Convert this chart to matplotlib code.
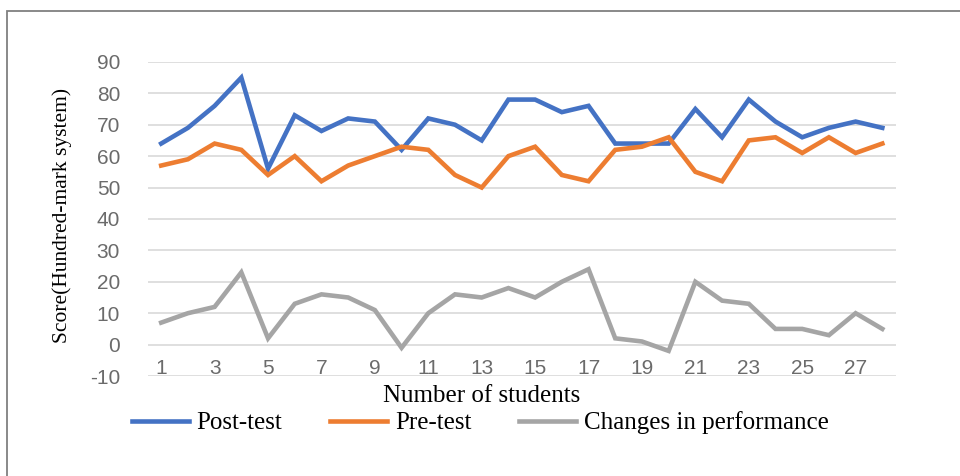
import numpy as np
import matplotlib.pyplot as plt
from matplotlib.patches import Rectangle

students = list(range(1, 29))
post_test = [64, 69, 76, 85, 56, 73, 68, 72, 71, 62, 72, 70, 65, 78, 78, 74, 76, 64, 64, 64, 75, 66, 78, 71, 66, 69, 71, 69]
pre_test = [57, 59, 64, 62, 54, 60, 52, 57, 60, 63, 62, 54, 50, 60, 63, 54, 52, 62, 63, 66, 55, 52, 65, 66, 61, 66, 61, 64]
changes = [7, 10, 12, 23, 2, 13, 16, 15, 11, -1, 10, 16, 15, 18, 15, 20, 24, 2, 1, -2, 20, 14, 13, 5, 5, 3, 10, 5]
tick_labels = [str(i) for i in range(1, 29, 2)]

plt.rcParams['axes.unicode_minus'] = False
serif = ['Liberation Serif', 'DejaVu Serif']
sans = ['Liberation Sans', 'DejaVu Sans']

fig = plt.figure(figsize=(9.6, 4.76), dpi=100)
ax = fig.add_axes([0.154, 0.210, 0.779, 0.660])

ax.plot(students, post_test, color='#4472C4', lw=3.3, label='Post-test', solid_joinstyle='miter')
ax.plot(students, pre_test, color='#ED7D31', lw=3.3, label='Pre-test', solid_joinstyle='miter')
ax.plot(students, changes, color='#A5A5A5', lw=3.3, label='Changes in performance', solid_joinstyle='miter')

ax.set_xlim(0.5, 28.5)
ax.set_ylim(-10, 90)
ax.set_yticks(range(-10, 91, 10))
ax.set_xticks(range(1, 29, 2))
ax.set_xticklabels(tick_labels)
ax.grid(axis='y', color='#D9D9D9', lw=1.2)
ax.set_axisbelow(True)
for s in ax.spines.values():
    s.set_visible(False)
ax.tick_params(length=0)
ax.tick_params(axis='y', pad=20, labelsize=15, labelcolor='#6b6b6b')
ax.tick_params(axis='x', pad=-12, labelsize=15, labelcolor='#6b6b6b')
for lab in ax.get_xticklabels() + ax.get_yticklabels():
    lab.set_family(sans)

ax.set_ylabel('Score(Hundred-mark system)', family=serif, fontsize=15.5)
ax.yaxis.set_label_coords(-0.102, 0.51)
ax.set_xlabel('Number of students', family=serif, fontsize=18)
ax.xaxis.set_label_coords(0.447, -0.03)

fig.legend(loc='center', bbox_to_anchor=(480 / 960, 1 - 423 / 476), ncol=3, frameon=False,
           prop={'family': serif, 'size': 18}, handlelength=2.3, handletextpad=0.3,
           columnspacing=1.9)

fig.add_artist(Rectangle((7 / 960, -0.1), 1.2, 1 - 11 / 476 + 0.1, transform=fig.transFigure,
                         fill=False, edgecolor='#808080', lw=1.3))

fig.savefig('out.png', dpi=100)
